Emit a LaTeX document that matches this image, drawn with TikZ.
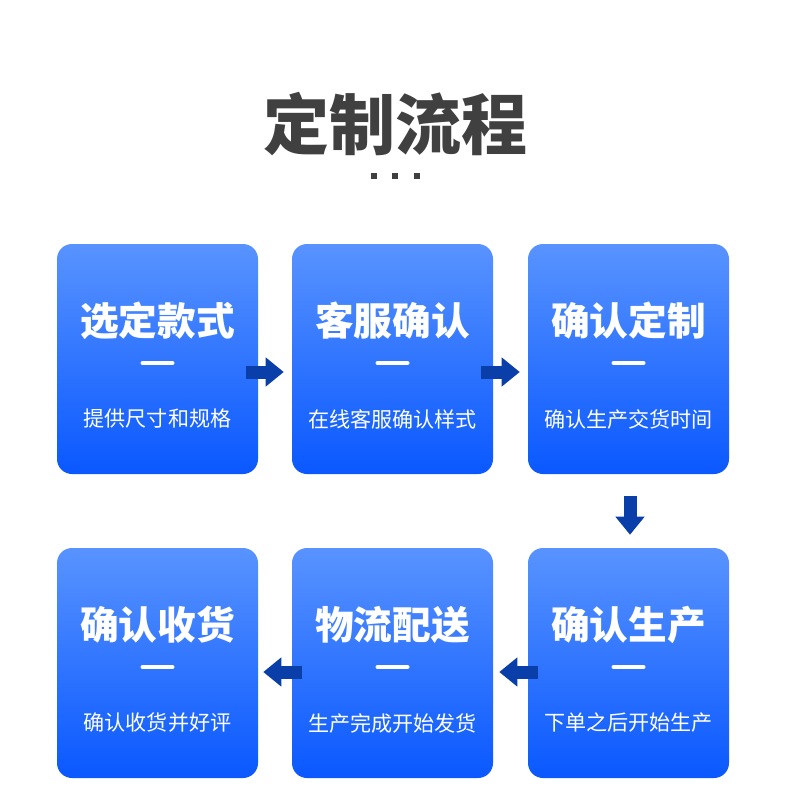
\documentclass[tikz,border=0pt]{standalone}
\usepackage{fontspec}
\newfontfamily\cjk{Noto Sans CJK SC}
\usetikzlibrary{arrows.meta,calc}
\definecolor{boxtop}{RGB}{88,147,255}
\definecolor{boxbot}{RGB}{10,88,255}
\definecolor{arrowblue}{RGB}{10,62,168}
\definecolor{titlegray}{RGB}{64,64,64}
\tikzset{
  stepbox/.style={rectangle, rounded corners=11.25pt, minimum width=150.75pt, minimum height=172.5pt,
    top color=boxtop, bottom color=boxbot, draw=none, inner sep=0pt},
  headtxt/.style={text=white, font=\cjk\bfseries\fontsize{29pt}{30pt}\selectfont, inner sep=0pt},
  subtxt/.style={text=white, font=\cjk\fontsize{15.8pt}{17pt}\selectfont, inner sep=0pt},
  dashbar/.style={draw=white, line width=3pt, line cap=round},
  flowarrow/.style={draw=arrowblue, line width=9.75pt, line cap=butt,
    -{Triangle[length=13.5pt,width=21pt]}},
}
\newcommand{\stepcard}[5]{%
  \node[stepbox] (#1) at (#2,#3) {};
  \node[headtxt] (#1h) at (#2,#3-38) {#4};
  \draw[dashbar] (#2-15,#3+4) -- (#2+15,#3+4);
  \node[subtxt] (#1s) at (#2,#3+60) {#5};
}
\begin{document}
\begin{tikzpicture}[x=0.75pt,y=-0.75pt]
\useasboundingbox (0,0) rectangle (790,795);
\fill[white] (0,0) rectangle (790,795);
% title
\node[text=titlegray, font=\cjk\bfseries\fontsize{49.5pt}{51pt}\selectfont, inner sep=0pt] (title) at (395,124) {定制流程};
\foreach \dx in {373.5,395,416.5}
  \fill[titlegray] (\dx-3,173) rectangle (\dx+3,179);
% boxes
\stepcard{b1}{157.5}{359}{选定款式}{提供尺寸和规格}
\stepcard{b2}{392.5}{359}{客服确认}{在线客服确认样式}
\stepcard{b3}{628.5}{359}{确认定制}{确认生产交货时间}
\stepcard{b6}{628.5}{663}{确认生产}{下单之后开始生产}
\stepcard{b5}{392.5}{663}{物流配送}{生产完成开始发货}
\stepcard{b4}{157.5}{663}{确认收货}{确认收货并好评}
% arrows
\draw[flowarrow] ($(b1.east)+(-12.5,13)$) -- ($(b2.west)+(-8,13)$);
\draw[flowarrow] ($(b2.east)+(-12.5,13)$) -- ($(b3.west)+(-8,13)$);
\draw[flowarrow] ($(b3.south)+(1.5,22)$) -- ($(b6.north)+(1.5,-13)$);
\draw[flowarrow] ($(b6.west)+(10,9)$) -- ($(b5.east)+(6,9)$);
\draw[flowarrow] ($(b5.west)+(10,9)$) -- ($(b4.east)+(5,9)$);
\end{tikzpicture}
\end{document}
